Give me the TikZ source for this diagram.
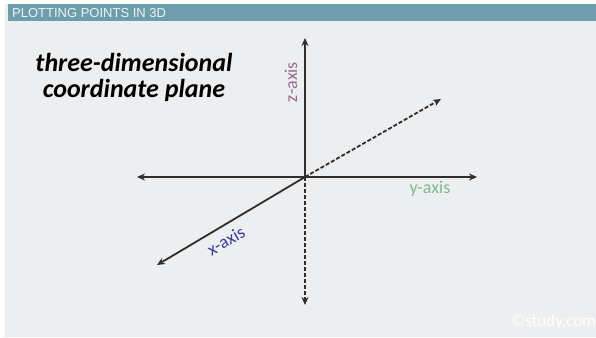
\documentclass[tikz,border=0pt]{standalone}
\usepackage{fontspec}
\setmainfont{Carlito}
\newfontfamily\hdrfont{Liberation Sans}
\usetikzlibrary{arrows.meta}
\definecolor{bg}{HTML}{ECEEEF}
\definecolor{bar}{HTML}{6E9EAE}
\definecolor{axis}{HTML}{2E2E2E}
\definecolor{zcol}{HTML}{9A6A90}
\definecolor{ycol}{HTML}{7DBA8C}
\definecolor{xcol}{HTML}{3A3A9A}
\tikzset{
  ax/.style={draw=axis, line width=1.8pt, -{Stealth[length=8pt,width=7pt]}},
  dax/.style={ax, dash pattern=on 4pt off 2pt},
  lab/.style={font=\fontsize{18}{18}\selectfont, inner sep=0pt}
}
\begin{document}
\begin{tikzpicture}[x=1pt,y=-1pt]
\useasboundingbox (0,0) rectangle (596,337);
\fill[white] (0,0) rectangle (596,337);
\fill[bg] (5,4) rectangle (596,337);
\fill[bar] (8,4) rectangle (596,21);
\node[anchor=west, text=white!88!bar, font=\hdrfont\fontsize{13}{13}\selectfont, inner sep=0pt] (hdr) at (12,13) {PLOTTING POINTS IN 3D};
\node[align=center, font=\fontsize{26}{26}\selectfont\bfseries\itshape, inner sep=0pt] (title) at (134,77) {three-dimensional\\coordinate plane};
\coordinate (O) at (305,177);
\coordinate (zt) at (305,38);
\coordinate (zb) at (305,305);
\coordinate (yl) at (137,177);
\coordinate (yr) at (477,177);
\coordinate (xb) at (157,265);
\coordinate (xt) at (441,99);
\draw[ax] (O) -- (zt);
\draw[dax] (O) -- (zb);
\draw[ax] (O) -- (yl);
\draw[ax] (O) -- (yr);
\draw[ax] (O) -- (xb);
\draw[dax] (O) -- (xt);
\node[lab, text=zcol, rotate=90] (zl) at (291,82) {z-axis};
\node[lab, text=ycol] (ylab) at (430,189) {y-axis};
\node[lab, text=xcol, rotate=30] (xlab) at (226,241) {x-axis};
\node[anchor=east, text=white, font=\fontsize{17}{17}\selectfont, inner sep=0pt] (wm) at (596,322) {©study.com};
\end{tikzpicture}
\end{document}
